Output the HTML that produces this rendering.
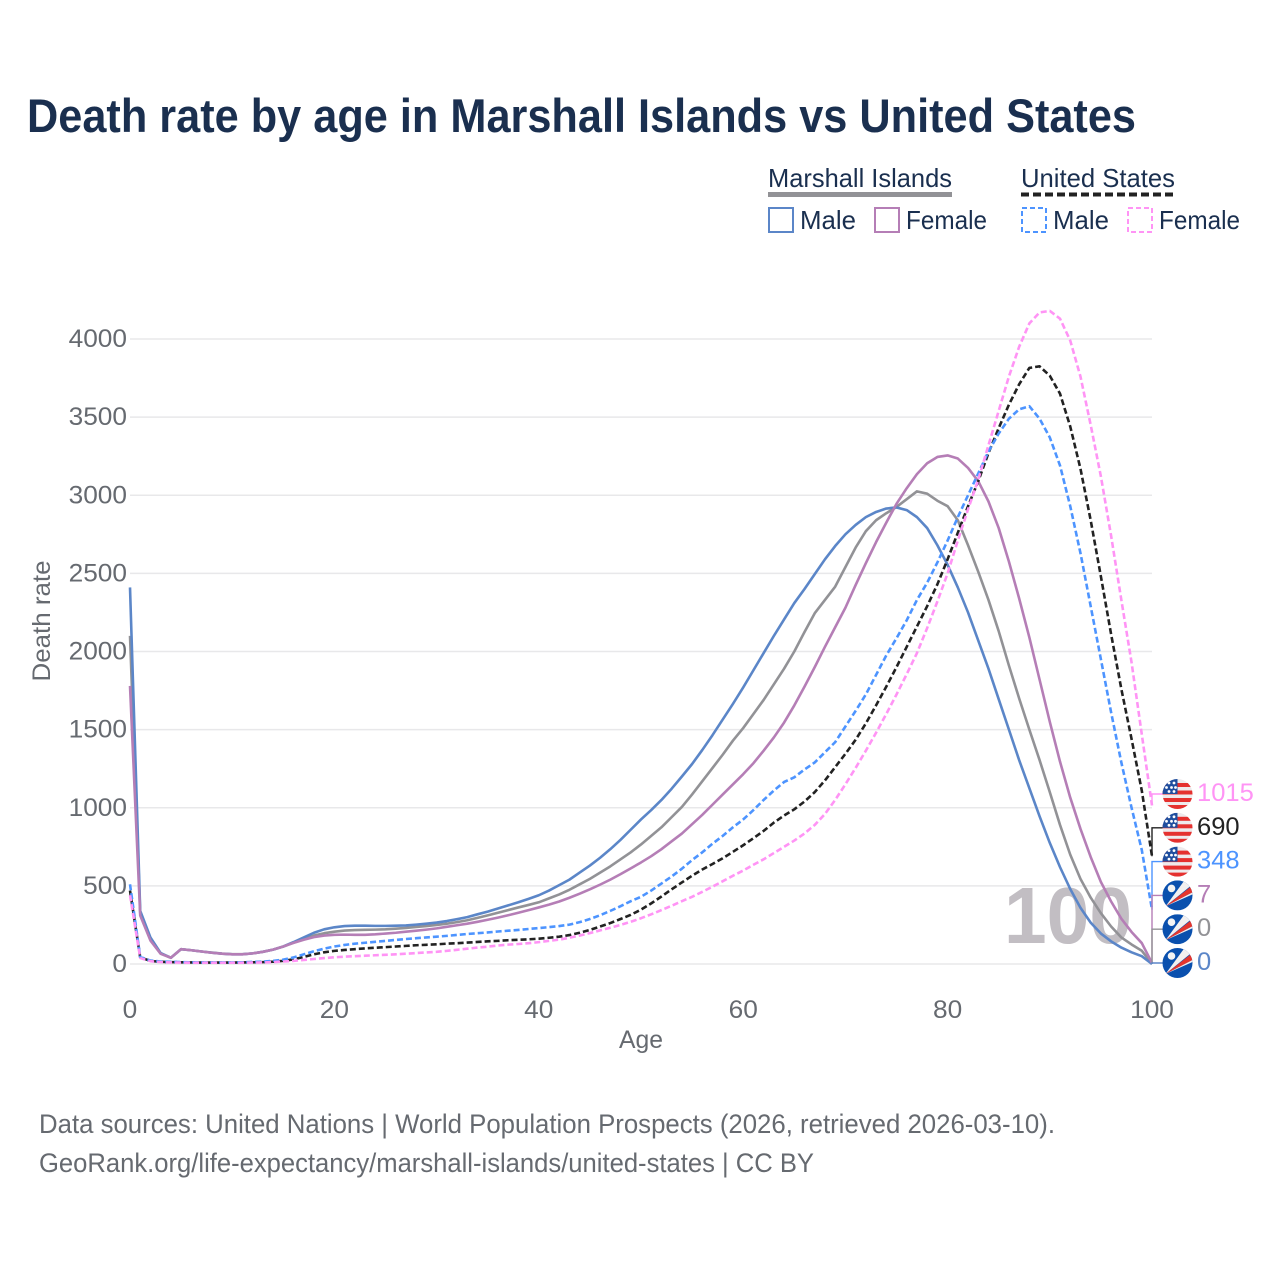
<!DOCTYPE html>
<html>
<head>
<meta charset="utf-8">
<title>Death rate by age in Marshall Islands vs United States</title>
<style>
html,body{margin:0;padding:0;background:#fff;width:1280px;height:1280px;overflow:hidden}
svg{display:block}
text{font-family:"Liberation Sans",sans-serif}
.t-legend{font-size:26px;fill:#1a2f4f}
.t-axis{font-size:25px;fill:#666a70}
.t-foot{font-size:27px;fill:#666a70}
</style>
</head>
<body>
<svg id="chart" xmlns="http://www.w3.org/2000/svg" width="1280" height="1280" viewBox="0 0 1280 1280">
  <defs>
    <clipPath id="flag-clip"><circle cx="0" cy="0" r="15"/></clipPath>
    <g id="flag-us" clip-path="url(#flag-clip)">
      <rect x="-15" y="-15" width="30" height="30" fill="#eeeaec"/>
      <rect x="-15" y="-11" width="30" height="4" fill="#e5312f"/>
      <rect x="-15" y="-3.5" width="30" height="4" fill="#e5312f"/>
      <rect x="-15" y="4" width="30" height="4" fill="#e5312f"/>
      <rect x="-15" y="11" width="30" height="4" fill="#e5312f"/>
      <rect x="-15" y="-15" width="15" height="15" fill="#1f4e9e"/>
      <circle cx="-8.5" cy="-11" r="1.4" fill="#fff"/><circle cx="-3.5" cy="-11" r="1.4" fill="#fff"/>
      <circle cx="-11" cy="-6.5" r="1.4" fill="#fff"/><circle cx="-6" cy="-6.5" r="1.4" fill="#fff"/><circle cx="-2" cy="-6.5" r="1.4" fill="#fff"/>
      <circle cx="-8.5" cy="-2.5" r="1.4" fill="#fff"/><circle cx="-3.5" cy="-2.5" r="1.4" fill="#fff"/>
    </g>
    <g id="flag-mh" clip-path="url(#flag-clip)">
      <rect x="-15" y="-15" width="30" height="30" fill="#0a50ae"/>
      <polygon points="-12,11 7,-15 15,-15 15,-11" fill="#f2f0f0"/>
      <polygon points="-12,11 15,-10 15,-3" fill="#e5352d"/>
      <polygon points="-12,11 15,-3 15,-1" fill="#f2f0f0"/>
      <circle cx="-6" cy="-7" r="3.8" fill="#f4f4f4"/>
    </g>
  </defs>

  <text x="27" y="132" font-size="47" font-weight="700" fill="#1a2f4f" textLength="1109" lengthAdjust="spacingAndGlyphs">Death rate by age in Marshall Islands vs United States</text>

  <g>
    <text class="t-legend" x="768" y="187" textLength="184" lengthAdjust="spacingAndGlyphs">Marshall Islands</text>
    <rect x="768" y="192" width="184" height="5" fill="#929296"/>
    <text class="t-legend" x="1021" y="187" textLength="154" lengthAdjust="spacingAndGlyphs">United States</text>
    <line x1="1021" y1="194.5" x2="1175" y2="194.5" stroke="#222" stroke-width="4" stroke-dasharray="8,4"/>

    <rect x="769" y="208" width="24" height="24" fill="none" stroke="#5b86c8" stroke-width="2"/>
    <text class="t-legend" x="800" y="229" textLength="56" lengthAdjust="spacingAndGlyphs">Male</text>
    <rect x="875" y="208" width="24" height="24" fill="none" stroke="#b57eb6" stroke-width="2"/>
    <text class="t-legend" x="906" y="229" textLength="81" lengthAdjust="spacingAndGlyphs">Female</text>
    <rect x="1022" y="208" width="24" height="24" fill="none" stroke="#4d94ff" stroke-width="2" stroke-dasharray="5,3"/>
    <text class="t-legend" x="1053" y="229" textLength="56" lengthAdjust="spacingAndGlyphs">Male</text>
    <rect x="1128" y="208" width="24" height="24" fill="none" stroke="#ff94f5" stroke-width="2" stroke-dasharray="5,3"/>
    <text class="t-legend" x="1159" y="229" textLength="81" lengthAdjust="spacingAndGlyphs">Female</text>
  </g>

  <g id="grid"></g>
  <g id="yticks"></g>
  <g id="xticks"></g>

  <text class="t-axis" transform="translate(50,621) rotate(-90)" text-anchor="middle" textLength="121" lengthAdjust="spacingAndGlyphs">Death rate</text>
  <text class="t-axis" x="641" y="1048" text-anchor="middle" textLength="44" lengthAdjust="spacingAndGlyphs">Age</text>

  <text x="1004" y="943" font-size="80" font-weight="700" fill="#c2bec3" textLength="128" lengthAdjust="spacingAndGlyphs">100</text>

  <g id="series"></g>
  <g id="ends"></g>

  <text class="t-foot" x="39" y="1133" textLength="1016" lengthAdjust="spacingAndGlyphs">Data sources: United Nations | World Population Prospects (2026, retrieved 2026-03-10).</text>
  <text class="t-foot" x="39" y="1172" textLength="775" lengthAdjust="spacingAndGlyphs">GeoRank.org/life-expectancy/marshall-islands/united-states | CC BY</text>
</svg>

<script>
const ages = [0,1,2,3,4,5,6,7,8,9,10,11,12,13,14,15,16,17,18,19,20,21,22,23,24,25,26,27,28,29,30,31,32,33,34,35,36,37,38,39,40,41,42,43,44,45,46,47,48,49,50,51,52,53,54,55,56,57,58,59,60,61,62,63,64,65,66,67,68,69,70,71,72,73,74,75,76,77,78,79,80,81,82,83,84,85,86,87,88,89,90,91,92,93,94,95,96,97,98,99,100];

const miBoth = [2100,325,160,68,40,95,88,80,73,67,63,63,68,78,92,112,137,160,182,197,207,214,217,219,220,222,226,231,237,243,250,258,268,280,295,311,328,345,362,378,395,420,445,475,510,545,585,625,670,715,765,820,875,940,1005,1085,1170,1255,1340,1430,1510,1600,1690,1790,1890,2000,2125,2245,2330,2415,2540,2665,2770,2840,2885,2925,2975,3025,3010,2965,2930,2840,2680,2510,2330,2130,1910,1700,1500,1305,1100,890,700,545,425,325,240,170,125,85,0];
const miMale = [2410,340,170,70,40,95,88,80,72,66,62,62,68,78,92,112,140,170,200,222,235,243,245,245,244,244,245,247,252,258,265,275,287,300,318,335,355,375,395,417,440,470,505,540,585,630,680,735,795,860,925,985,1050,1122,1200,1280,1370,1465,1565,1665,1770,1880,1990,2100,2205,2310,2400,2495,2590,2675,2750,2810,2860,2893,2915,2922,2905,2860,2790,2680,2555,2410,2250,2070,1890,1695,1500,1305,1125,945,775,620,480,360,265,195,145,105,75,50,0];
const miFemale = [1780,310,150,65,40,95,88,80,72,66,62,62,68,78,92,112,135,155,172,182,187,188,187,187,190,195,200,207,213,220,228,238,248,258,270,283,297,312,328,345,362,380,400,424,450,478,508,540,575,612,650,690,735,785,835,895,955,1020,1085,1150,1215,1285,1365,1450,1545,1655,1775,1900,2030,2155,2280,2425,2565,2700,2825,2945,3045,3135,3205,3245,3255,3235,3175,3090,2960,2790,2575,2340,2090,1820,1550,1295,1065,865,685,525,400,290,205,134,7];
const usBoth = [470,42,20,14,12,11,10,9,9,9,9,10,11,12,15,20,30,45,62,75,84,90,95,100,104,108,112,116,120,123,126,130,133,137,141,145,148,152,155,158,162,168,175,185,200,218,240,262,288,315,348,388,432,478,522,565,605,640,677,718,760,805,852,905,950,990,1040,1100,1175,1260,1345,1435,1540,1655,1775,1900,2030,2160,2290,2430,2590,2760,2930,3090,3270,3430,3580,3710,3815,3825,3765,3650,3440,3170,2840,2480,2110,1760,1440,1110,690];
const usMale = [510,45,22,16,14,12,11,10,10,10,10,11,13,15,20,28,42,62,82,98,112,122,130,136,142,148,154,160,165,170,175,180,186,192,197,202,208,213,218,224,230,236,243,252,268,288,312,340,370,402,430,470,515,560,610,665,715,770,820,875,925,985,1050,1110,1165,1195,1245,1290,1355,1420,1520,1620,1725,1850,1975,2085,2200,2330,2440,2570,2710,2860,3000,3140,3280,3395,3490,3550,3570,3490,3370,3190,2930,2630,2290,1950,1610,1290,1000,730,348];
const usFemale = [440,38,18,12,10,9,8,8,8,8,8,8,9,10,12,16,20,26,32,38,43,47,50,53,56,59,62,66,70,74,78,84,91,98,105,111,118,124,128,133,140,148,156,168,182,198,215,232,250,270,293,318,345,373,402,430,462,495,530,565,598,635,670,710,750,790,835,890,960,1050,1150,1255,1365,1480,1600,1725,1855,1990,2150,2320,2500,2710,2910,3100,3320,3540,3760,3950,4100,4170,4180,4130,3990,3760,3450,3120,2740,2330,1930,1470,1015];

const yTickValues = [0,500,1000,1500,2000,2500,3000,3500,4000];
const yTickLabels = ["0","500","1000","1500","2000","2500","3000","3500","4000"];
const xTickValues = [0,20,40,60,80,100];
const xTickLabels = ["0","20","40","60","80","100"];

const SVGNS = "http://www.w3.org/2000/svg";
const xScale = a => 130 + a * 10.22;
const yScale = v => 964 - v * 0.15625;

const grid = document.getElementById("grid");
const yticks = document.getElementById("yticks");
const xticks = document.getElementById("xticks");
const seriesG = document.getElementById("series");
const ends = document.getElementById("ends");

yTickValues.forEach((v, i) => {
  const ln = document.createElementNS(SVGNS, "line");
  
  
  ln.setAttribute("x1", 130);
  ln.setAttribute("x2", 1152);
  ln.setAttribute("y1", yScale(v));
  ln.setAttribute("y2", yScale(v));
  ln.setAttribute("stroke", "#e8e8ea");
  ln.setAttribute("stroke-width", "1.4");
  grid.appendChild(ln);

  const t = document.createElementNS(SVGNS, "text");
  
  
  t.setAttribute("class", "t-axis");
  t.setAttribute("x", 127);
  t.setAttribute("y", yScale(v) + 8);
  t.setAttribute("text-anchor", "end");
  t.setAttribute("textLength", yTickLabels[i].length * 14.6);
  t.setAttribute("lengthAdjust", "spacingAndGlyphs");
  t.textContent = yTickLabels[i];
  yticks.appendChild(t);
});

xTickValues.forEach((v, i) => {
  const t = document.createElementNS(SVGNS, "text");
  
  
  t.setAttribute("class", "t-axis");
  t.setAttribute("x", xScale(v));
  t.setAttribute("y", 1018);
  t.setAttribute("text-anchor", "middle");
  t.setAttribute("textLength", xTickLabels[i].length * 14.6);
  t.setAttribute("lengthAdjust", "spacingAndGlyphs");
  t.textContent = xTickLabels[i];
  xticks.appendChild(t);
});

function drawLine(values, color, dashed, name) {
  const p = document.createElementNS(SVGNS, "polyline");
  
  
  p.setAttribute("points", values.map((v, i) => xScale(ages[i]).toFixed(2) + "," + yScale(v).toFixed(2)).join(" "));
  p.setAttribute("fill", "none");
  p.setAttribute("stroke", color);
  p.setAttribute("stroke-width", "2.6");
  p.setAttribute("stroke-linejoin", "round");
  if (dashed) p.setAttribute("stroke-dasharray", "6,3");
  seriesG.appendChild(p);
}

drawLine(miBoth, "#929296", false, "line-marshall-islands-both");
drawLine(miMale, "#5b86c8", false, "line-marshall-islands-male");
drawLine(miFemale, "#b57eb6", false, "line-marshall-islands-female");
drawLine(usBoth, "#222222", true, "line-united-states-both");
drawLine(usMale, "#4d94ff", true, "line-united-states-male");
drawLine(usFemale, "#ff94f5", true, "line-united-states-female");

function drawEnd(values, color, flag, slot, name) {
  const endValue = values[values.length - 1];
  const ly = 794 + slot * 33.8;
  const conn = document.createElementNS(SVGNS, "polyline");
  
  
  conn.setAttribute("points", "1152," + yScale(endValue) + " 1152," + ly + " 1166," + ly);
  conn.setAttribute("fill", "none");
  conn.setAttribute("stroke", color);
  conn.setAttribute("stroke-width", "1.4");
  ends.appendChild(conn);

  const u = document.createElementNS(SVGNS, "use");
  
  
  u.setAttribute("href", "#" + flag);
  u.setAttribute("transform", "translate(1177.5," + ly + ")");
  ends.appendChild(u);

  const t = document.createElementNS(SVGNS, "text");
  
  
  t.setAttribute("x", 1197);
  t.setAttribute("y", ly + 7);
  t.setAttribute("font-size", "25");
  t.setAttribute("fill", color);
  t.setAttribute("textLength", String(endValue).length * 14.2);
  t.setAttribute("lengthAdjust", "spacingAndGlyphs");
  t.textContent = endValue;
  ends.appendChild(t);
}

drawEnd(usFemale, "#ff94f5", "flag-us", 0, "end-us-female");
drawEnd(usBoth, "#222222", "flag-us", 1, "end-us-both");
drawEnd(usMale, "#4d94ff", "flag-us", 2, "end-us-male");
drawEnd(miFemale, "#b57eb6", "flag-mh", 3, "end-mi-female");
drawEnd(miBoth, "#929296", "flag-mh", 4, "end-mi-both");
drawEnd(miMale, "#5b86c8", "flag-mh", 5, "end-mi-male");
</script>
</body>
</html>
